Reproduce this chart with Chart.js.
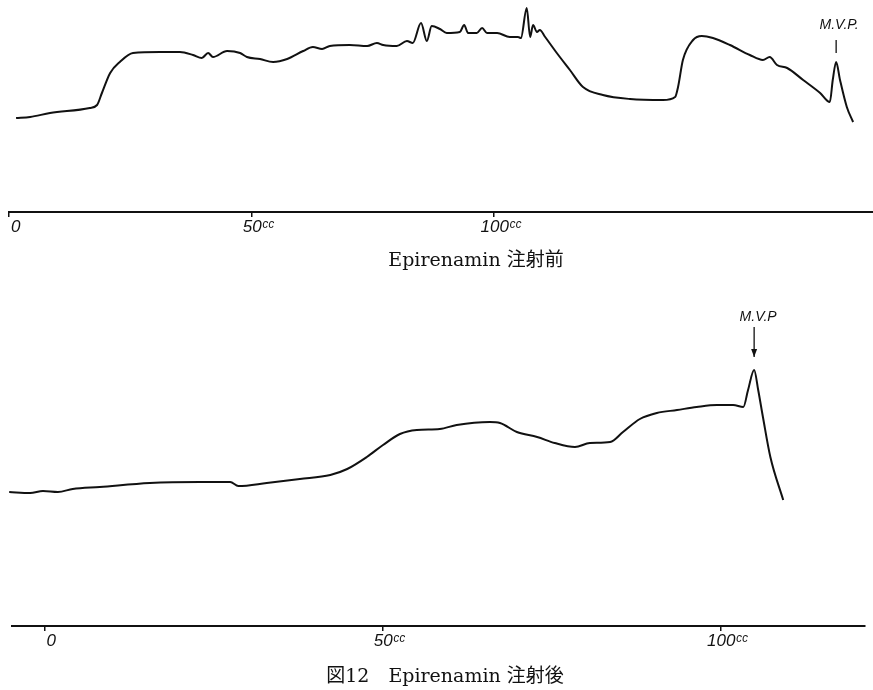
<!DOCTYPE html>
<html>
<head>
<meta charset="utf-8">
<script src="https://cdn.jsdelivr.net/npm/chart.js@4.4.0/dist/chart.umd.min.js"></script>
<style>
  body { margin: 0; background: #fff; }
  canvas { position: absolute; left: 0; }
  #pre { top: 0; }
  #post { top: 275px; }
</style>
</head>
<body>
<canvas id="pre" width="873" height="275"></canvas>
<canvas id="post" width="873" height="415"></canvas>
<script>
// volume (cc) and trace height above the base line, before injection
var preX = [1.5, 4.4, 8.5, 16.7, 18.2, 19.2, 20.9, 22.9, 25.6, 31.2, 35.3, 38.0, 39.8, 41.1, 42.1, 45.0,
  47.7, 49.1, 51.8, 54.5, 57.4, 60.7, 62.7, 64.6, 66.2, 70.3, 73.9, 75.9, 77.2, 80.0, 82.1, 83.3,
  85.0, 86.2, 87.2, 88.9, 90.3, 93.0, 93.9, 94.7, 96.5, 97.6, 98.6, 100.7, 103.3, 105.0, 105.6,
  106.8, 107.5, 108.1, 108.9, 109.5, 110.6, 113.0, 115.7, 118.4, 122.5, 128.1, 134.9, 137.4,
  138.0, 139.0, 141.1, 142.9, 145.2, 148.7, 152.8, 155.5, 156.9, 158.4, 160.5, 163.8, 167.3,
  169.3, 169.9, 170.6, 171.4, 172.8, 174.1];
var preY = [94, 95, 99, 104, 107, 119, 139, 150, 159, 160, 160, 157, 154, 159, 155, 161,
  159, 155, 153, 150, 153, 161, 165, 163, 166, 167, 166, 169, 167, 166, 171, 169,
  189, 171, 186, 183, 179, 180, 187, 179, 179, 184, 179, 179, 175, 175, 174,
  204, 175, 187, 180, 182, 175, 159, 142, 125, 117, 113, 112, 115,
  125, 152, 172, 176, 174, 167, 157, 152, 155, 147, 144, 132, 119,
  110, 132, 150, 132, 105, 90];

// after injection
var postX = [-5.2, -2.1, -0.2, 2.0, 4.2, 8.2, 15.6, 23.0, 27.5, 28.7, 32.9, 37.8, 42.3, 44.8,
  47.7, 50.1, 52.6, 55.1, 58.5, 61.0, 65.9, 67.4, 69.9, 72.9, 75.5, 78.5, 80.7, 83.7, 85.6,
  88.1, 90.6, 93.6, 96.5, 99.5, 101.9, 103.4, 104.1, 105.0, 105.6, 106.3, 107.4, 109.3];
var postY = [134, 133, 135, 134, 137, 139, 143, 144, 144, 140, 143, 147, 151, 157,
  169, 181, 192, 196, 197, 201, 204, 203, 194, 189, 183, 179, 183, 184, 194,
  207, 213, 216, 219, 221, 221, 219, 236, 256, 236, 209, 169, 126];

var preTicks = [0, 50, 100];
var postTicks = [0, 50, 100];
var preCaption = 'Epirenamin 注射前';
var postCaption = '図12\u3000Epirenamin 注射後';
var mvpLabels = ['M.V.P.', 'M.V.P'];

var ink = '#111';

var captionPlugin = {
  id: 'caption',
  afterDraw: function(chart, args, opts) {
    var ctx = chart.ctx;
    ctx.save();
    ctx.fillStyle = ink;
    ctx.font = '19px "DejaVu Serif", "Noto Sans CJK JP", serif';
    ctx.textAlign = 'center';
    ctx.textBaseline = 'middle';
    ctx.fillText(opts.text, opts.x, opts.y);
    ctx.restore();
  }
};

var mvpPlugin = {
  id: 'mvp',
  afterDraw: function(chart, args, opts) {
    var pt = chart.getDatasetMeta(0).data[opts.index];
    var ctx = chart.ctx;
    ctx.save();
    ctx.fillStyle = ink;
    ctx.strokeStyle = ink;
    ctx.lineWidth = 1.3;
    ctx.font = 'italic 14px "Liberation Sans", sans-serif';
    ctx.textAlign = 'center';
    ctx.textBaseline = 'middle';
    ctx.fillText(opts.text, pt.x + opts.dx, pt.y + opts.textDy);
    ctx.beginPath();
    ctx.moveTo(pt.x, pt.y + opts.from);
    ctx.lineTo(pt.x, pt.y + opts.to);
    ctx.stroke();
    if (opts.arrow) {
      ctx.beginPath();
      ctx.moveTo(pt.x - 3, pt.y + opts.to - 8);
      ctx.lineTo(pt.x, pt.y + opts.to);
      ctx.lineTo(pt.x + 3, pt.y + opts.to - 8);
      ctx.closePath();
      ctx.fill();
    }
    ctx.restore();
  }
};

function makeChart(id, xs, ys, ticks, xmin, xmax, ymax, pad, caption, mvp) {
  return new Chart(document.getElementById(id), {
    type: 'line',
    data: {
      datasets: [{
        data: xs.map(function(x, i) { return {x: x, y: ys[i]}; }),
        borderColor: ink,
        borderWidth: 2,
        pointRadius: 0,
        cubicInterpolationMode: 'monotone',
        fill: false,
        clip: false
      }]
    },
    options: {
      responsive: false,
      devicePixelRatio: 1,
      animation: false,
      layout: { padding: pad },
      plugins: {
        legend: { display: false },
        tooltip: { enabled: false },
        caption: caption,
        mvp: mvp
      },
      scales: {
        x: {
          type: 'linear',
          min: xmin,
          max: xmax,
          afterBuildTicks: function(s) { s.ticks = ticks.map(function(v) { return {value: v}; }); },
          afterFit: function(s) { s.height = 22; },
          border: { display: true, color: ink, width: 2 },
          grid: { display: true, drawOnChartArea: false, drawTicks: true, tickLength: 5, color: ink, lineWidth: 1.5 },
          ticks: {
            callback: function(v) { return v === 0 ? '0' : v + 'ᶜᶜ'; },
            font: { family: '"Liberation Sans", sans-serif', style: 'italic', size: 17 },
            color: ink,
            padding: 0,
            labelOffset: 7,
            maxRotation: 0,
            autoSkip: false
          }
        },
        y: { display: false, min: 0, max: ymax }
      }
    },
    plugins: [captionPlugin, mvpPlugin]
  });
}

makeChart('pre', preX, preY, preTicks, 0, 178.2, 212,
  { left: 8.8, right: 0, top: 0, bottom: 41 },
  { text: preCaption, x: 476, y: 261 },
  { index: 75, text: mvpLabels[0], dx: 3, textDy: -37, from: -22, to: -9, arrow: false });

makeChart('post', postX, postY, postTicks, -4.8, 121.4, 351,
  { left: 11.9, right: 8, top: 0, bottom: 42 },
  { text: postCaption, x: 445, y: 402 },
  { index: 37, text: mvpLabels[1], dx: 4, textDy: -53, from: -43, to: -13, arrow: true });
</script>
</body>
</html>
